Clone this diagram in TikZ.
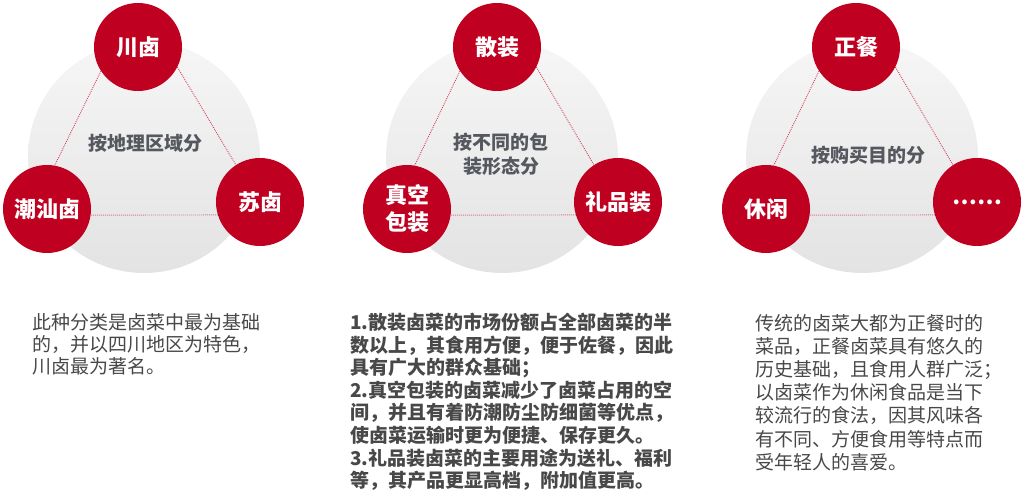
\documentclass[tikz,border=0pt]{standalone}
\usepackage{fontspec}
\setmainfont{Noto Sans CJK SC}
\definecolor{lured}{RGB}{192,0,32}
\definecolor{lugray}{RGB}{85,88,94}
\definecolor{lutext}{RGB}{72,72,72}
\begin{document}
\begin{tikzpicture}[x=1pt,y=-1pt,
  redball/.style={circle,fill=lured,minimum size=88pt,inner sep=0pt,text=white,
    font=\fontsize{22}{27}\selectfont\bfseries,align=center},
  tri/.style={draw=lured!75,line width=0.9pt,dash pattern=on 0.9pt off 1.1pt},
  hub/.style={text=lugray,font=\fontsize{19}{24}\selectfont\bfseries,align=center},
  para/.style={anchor=base west,inner sep=0pt,align=left,text=lutext},
  disc/.style={top color=gray!7,middle color=white,bottom color=gray!22}]
\useasboundingbox (0,0) rectangle (1024,494);
% group 1
\shade[disc] (144,157) circle[radius=116];
\node[redball] (a1) at (138,47) {川卤};
\node[redball] (b1) at (47,209) {潮汕卤};
\node[redball] (c1) at (260,202) {苏卤};
\draw[tri] (a1.213) -- (b1.80);
\draw[tri] (a1.333) -- (c1.123);
\draw[tri] (b1.-8) -- (c1.197);
\node[hub] (h1) at (145,143) {按地理区域分};
% group 2
\shade[disc] (502,157) circle[radius=116];
\node[redball] (a2) at (497,47) {散装};
\node[redball] (b2) at (407,209) {真空\\包装};
\node[redball] (c2) at (618,202) {礼品装};
\draw[tri] (a2.213) -- (b2.80);
\draw[tri] (a2.333) -- (c2.123);
\draw[tri] (b2.-8) -- (c2.197);
\node[hub] (h2) at (501,154) {按不同的包\\装形态分};
% group 3
\shade[disc] (862,157) circle[radius=116];
\node[redball] (a3) at (856,47) {正餐};
\node[redball] (b3) at (766,209) {休闲};
\node[redball] (c3) at (977,202) {……};
\draw[tri] (a3.213) -- (b3.80);
\draw[tri] (a3.333) -- (c3.123);
\draw[tri] (b3.-8) -- (c3.197);
\node[hub] (h3) at (868,155) {按购买目的分};
% paragraphs (anchored at the baseline of the last line)
\node[para,font=\fontsize{19}{22}\selectfont] (p1) at (32,373)
  {此种分类是卤菜中最为基础\\的，并以四川地区为特色，\\川卤最为著名。};
\node[para,font=\fontsize{19}{22.6}\selectfont\bfseries] (p2) at (350,487.7)
  {1.散装卤菜的市场份额占全部卤菜的半\\数以上，其食用方便，便于佐餐，因此\\具有广大的群众基础；\\2.真空包装的卤菜减少了卤菜占用的空\\间，并且有着防潮防尘防细菌等优点，\\使卤菜运输时更为便捷、保存更久。\\3.礼品装卤菜的主要用途为送礼、福利\\等，其产品更显高档，附加值更高。};
\node[para,font=\fontsize{19}{23.2}\selectfont] (p3) at (755,469.2)
  {传统的卤菜大都为正餐时的\\菜品，正餐卤菜具有悠久的\\历史基础，且食用人群广泛；\\以卤菜作为休闲食品是当下\\较流行的食法，因其风味各\\有不同、方便食用等特点而\\受年轻人的喜爱。};
\end{tikzpicture}
\end{document}
